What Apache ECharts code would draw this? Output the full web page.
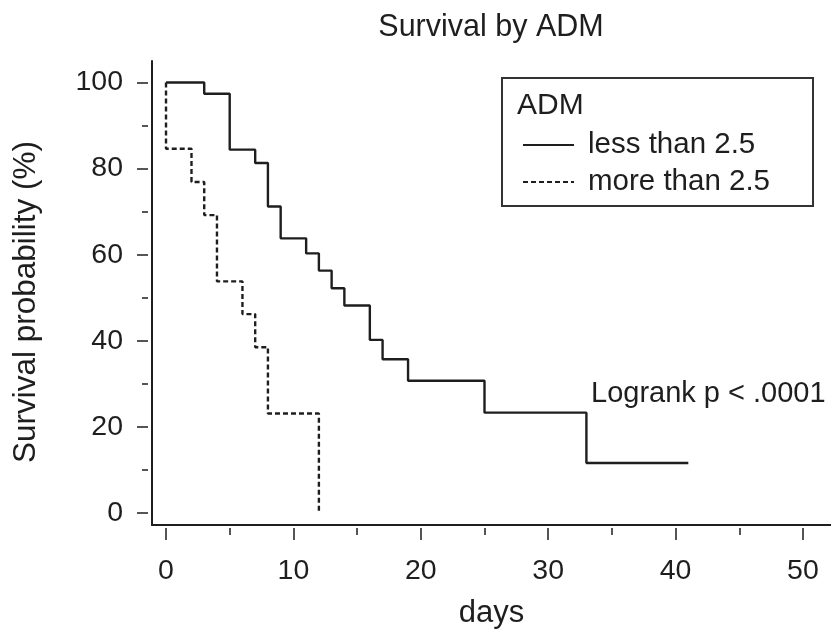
<!DOCTYPE html>
<html>
<head>
<meta charset="utf-8">
<script src="https://cdn.jsdelivr.net/npm/echarts@6/dist/echarts.min.js"></script>
<style>html,body{margin:0;padding:0;background:#fff;}#c{width:831px;height:632px;}</style>
</head>
<body>
<div id="c"></div>
<script>
// ---- data ----
const titleText = 'Survival by ADM';
const seriesNames = ['less than 2.5', 'more than 2.5'];
const lessDays = [0, 3, 5, 7, 8, 9, 11, 12, 13, 14, 16, 17, 19, 25, 33, 41];
const lessSurv = [100, 97.4, 84.4, 81.3, 71.2, 63.8, 60.3, 56.3, 52.2, 48.2, 40.2, 35.7, 30.7, 23.3, 11.6, 11.6];
const moreDays = [0, 0, 2, 3, 4, 6, 7, 8, 12];
const moreSurv = [100, 84.6, 76.9, 69.2, 53.8, 46.2, 38.5, 23.1, 0];
const xMajorTicks = [0, 10, 20, 30, 40, 50];
const xMinorTicks = [5, 15, 25, 35, 45];
const yMajorTicks = [0, 20, 40, 60, 80, 100];
const yMinorTicks = [10, 30, 50, 70, 90];
const pText = 'Logrank p < .0001';

const FONT = 'Liberation Sans';
const INK = '#1e1e1e';
const XMIN = -1.1, XMAX = 52.2, YMIN = -2.8, YMAX = 105;

function pairs(xs, ys) { return xs.map((x, i) => [x, ys[i]]); }

const baseX = { type: 'value', position: 'bottom', min: XMIN, max: XMAX, splitLine: { show: false } };
const baseY = { type: 'value', position: 'left', min: YMIN, max: YMAX, splitLine: { show: false } };

const option = {
  animation: false,
  backgroundColor: '#fff',
  title: {
    text: titleText, left: 486, top: 7, textAlign: 'center',
    textStyle: { fontFamily: FONT, fontSize: 30.5, fontWeight: 'normal', color: INK }
  },
  grid: { left: 152, right: 0, top: 61, bottom: 107, containLabel: false, outerBoundsMode: 'none' },
  xAxis: [
    Object.assign({}, baseX, {
      axisLine: { show: true, onZero: false, lineStyle: { color: INK, width: 2 } },
      axisTick: { show: false }, axisLabel: { show: false }
    }),
    Object.assign({}, baseX, {
      offset: 3,
      axisLine: { show: false, onZero: false },
      axisTick: { show: true, length: 12, customValues: xMajorTicks, lineStyle: { color: INK, width: 1.5 } },
      axisLabel: { show: true, customValues: xMajorTicks, margin: 29, fontFamily: FONT, fontSize: 28.5, color: INK },
      name: 'days', nameLocation: 'middle', nameGap: 70,
      nameTextStyle: { fontFamily: FONT, fontSize: 31, color: INK }
    }),
    Object.assign({}, baseX, {
      offset: 3,
      axisLine: { show: false, onZero: false },
      axisTick: { show: true, length: 7, customValues: xMinorTicks, lineStyle: { color: INK, width: 1.5 } },
      axisLabel: { show: false }
    })
  ],
  yAxis: [
    Object.assign({}, baseY, {
      axisLine: { show: true, onZero: false, lineStyle: { color: INK, width: 2 } },
      axisTick: { show: false }, axisLabel: { show: false }
    }),
    Object.assign({}, baseY, {
      offset: 4,
      axisLine: { show: false, onZero: false },
      axisTick: { show: true, length: 11, customValues: yMajorTicks, lineStyle: { color: INK, width: 1.5 } },
      axisLabel: { show: true, customValues: yMajorTicks, margin: 25, fontFamily: FONT, fontSize: 28.5, color: INK },
      name: 'Survival probability (%)', nameLocation: 'middle', nameGap: 106,
      nameTextStyle: { fontFamily: FONT, fontSize: 31.5, color: INK, padding: [0, 18, 0, 0] }
    }),
    Object.assign({}, baseY, {
      offset: 4,
      axisLine: { show: false, onZero: false },
      axisTick: { show: true, length: 6, customValues: yMinorTicks, lineStyle: { color: INK, width: 1.5 } },
      axisLabel: { show: false }
    })
  ],
  legend: {
    orient: 'vertical', left: 517, top: 125,
    itemWidth: 51, itemHeight: 14, itemGap: 7,
    data: seriesNames,
    itemStyle: { opacity: 0 },
    textStyle: { fontFamily: FONT, fontSize: 29.5, color: INK, lineHeight: 24, padding: [0, 0, 0, 9] }
  },
  graphic: [
    { type: 'rect', shape: { x: 502, y: 78, width: 311, height: 128 },
      style: { fill: 'none', stroke: '#333', lineWidth: 2 }, z: 10 },
    { type: 'text', x: 517, y: 106,
      style: { text: 'ADM', font: '30px "Liberation Sans"', fill: INK, textVerticalAlign: 'middle' }, z: 10 },
    { type: 'text', x: 591, y: 394,
      style: { text: pText, font: '29px "Liberation Sans"', fill: INK, textVerticalAlign: 'middle' }, z: 10 }
  ],
  series: [
    { name: seriesNames[0], type: 'line', step: 'end', symbol: 'none', xAxisIndex: 0, yAxisIndex: 0,
      data: pairs(lessDays, lessSurv),
      lineStyle: { color: INK, width: 2.4, type: 'solid' }, itemStyle: { color: INK } },
    { name: seriesNames[1], type: 'line', step: 'end', symbol: 'none', xAxisIndex: 0, yAxisIndex: 0,
      data: pairs(moreDays, moreSurv),
      lineStyle: { color: INK, width: 2.4, type: [5, 3] }, itemStyle: { color: INK } }
  ]
};

const chart = echarts.init(document.getElementById('c'), null, { renderer: 'canvas' });
chart.setOption(option);
</script>
</body>
</html>
